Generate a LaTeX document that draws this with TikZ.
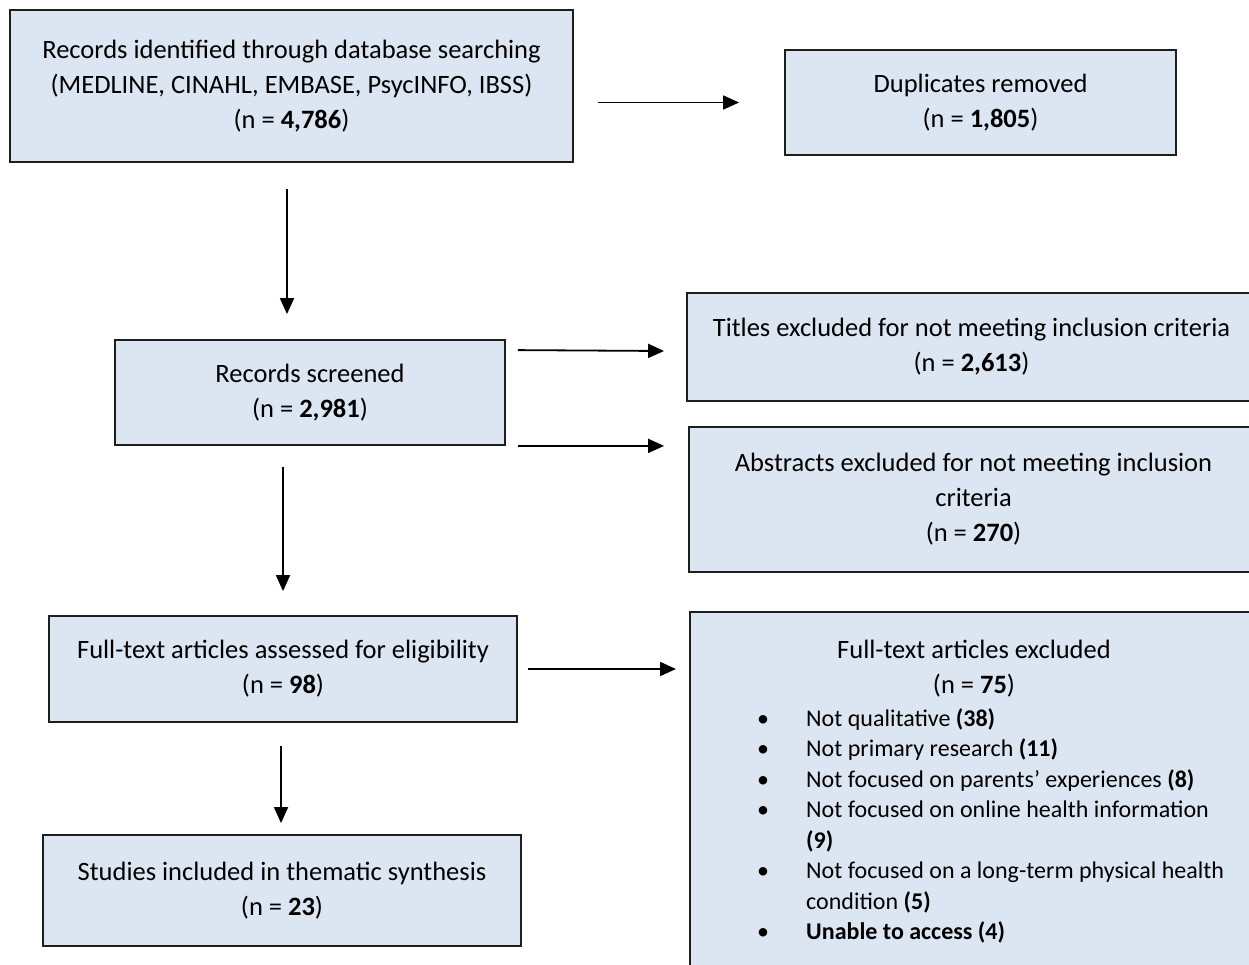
\documentclass[tikz,border=0pt]{standalone}
\usepackage{fontspec}
\setmainfont{Carlito}
\usetikzlibrary{arrows.meta}
\definecolor{boxblue}{RGB}{220,230,242}
\definecolor{edge}{RGB}{30,30,30}
\newcommand\fsMain{\fontsize{26.5}{35}\selectfont}
\newcommand\fsList{\fontsize{24}{30.5}\selectfont}
\begin{document}
\begin{tikzpicture}[x=1pt,y=1pt,
  box/.style={draw=edge, line width=1.8pt, fill=boxblue, inner sep=0pt, align=center, font=\fsMain},
  arr/.style={draw=black, line width=1.8pt, -{Triangle[length=16pt,width=14pt]}}]
\useasboundingbox (0,0) rectangle (1249,-964);
\fill[white] (0,0) rectangle (1249,-964);
% boxes
\node[box, minimum width=563, minimum height=152] (b1) at (291.5,-86)
  {Records identified through database searching\\(MEDLINE, CINAHL, EMBASE, PsycINFO, IBSS)\\(n = \textbf{4,786})};
\node[box, minimum width=391, minimum height=105] (b2) at (980.5,-102.5)
  {Duplicates removed\\(n = \textbf{1,805})};
\node[box, minimum width=390, minimum height=105] (b3) at (310,-392.5)
  {Records screened\\(n = \textbf{2,981})};
\node[box, minimum width=569, minimum height=108] (b4) at (971.5,-347)
  {Titles excluded for not meeting inclusion criteria\\(n = \textbf{2,613})};
\node[box, minimum width=569, minimum height=145] (b5) at (973.5,-499.5)
  {Abstracts excluded for not meeting inclusion\\criteria\\(n = \textbf{270})};
\node[box, minimum width=468, minimum height=106] (b6) at (283,-669)
  {Full-text articles assessed for eligibility\\(n = \textbf{98})};
\node[box, minimum width=478, minimum height=111] (b8) at (282,-890.5)
  {Studies included in thematic synthesis\\(n = \textbf{23})};
\node[box, minimum width=570, minimum height=420, anchor=north west] (b7) at (689,-611) {};
\node[anchor=base, inner sep=0pt, font=\fsMain] (b7head) at (974,-658)
  {\begin{tabular}[t]{@{}c@{}}Full-text articles excluded\\(n = \textbf{75})\end{tabular}};
\node[anchor=base west, inner sep=0pt, font=\fsList] (b7list) at (757,-726)
  {\begin{tabular}[t]{@{}p{49pt}@{}l@{}}
  \textbullet & Not qualitative \textbf{(38)}\\
  \textbullet & Not primary research \textbf{(11)}\\
  \textbullet & Not focused on parents’ experiences \textbf{(8)}\\
  \textbullet & Not focused on online health information\\
              & \textbf{(9)}\\
  \textbullet & Not focused on a long-term physical health\\
              & condition \textbf{(5)}\\
  \textbullet & \textbf{Unable to access (4)}
  \end{tabular}};
% connectors
\draw[arr] ([xshift=24pt]b1.east |- b2.west) -- ([xshift=-45pt]b2.west);
\draw[arr] ([shift={(-4.5pt,-26pt)}]b1.south) -- ([shift={(-4.5pt,25pt)}]b1.south |- b3.north);
\draw[arr] ([shift={(12pt,-11pt)}]b3.north east) -- ([shift={(-22pt,-4pt)}]b4.west);
\draw[arr] ([xshift=12pt]b3.south east) -- ([shift={(-24pt,0pt)}]b5.west |- b3.south east);
\draw[arr] ([shift={(-27pt,-21pt)}]b3.south) -- ([shift={(-27pt,24pt)}]b3.south |- b6.north);
\draw[arr] ([xshift=10pt]b6.east) -- ([xshift=-13pt]b7.west |- b6.east);
\draw[arr] ([shift={(-2pt,-23pt)}]b6.south) -- ([shift={(-2pt,11pt)}]b6.south |- b8.north);
\end{tikzpicture}
\end{document}
